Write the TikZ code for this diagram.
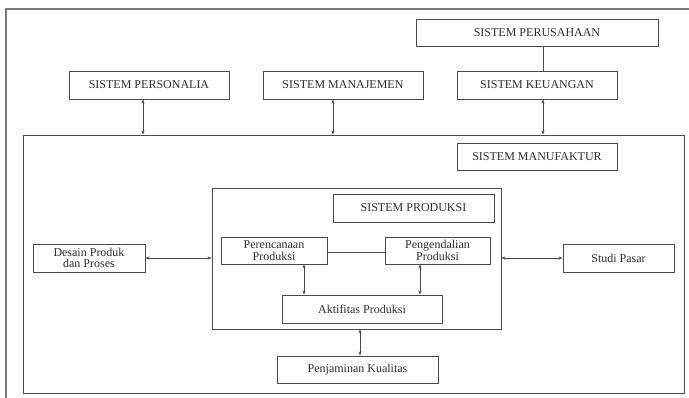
\documentclass[tikz,border=0pt]{standalone}
\usepackage{fontspec}
\setmainfont{Liberation Serif}
\usetikzlibrary{arrows.meta}
\definecolor{ink}{HTML}{2E2E2E}
\definecolor{rule}{HTML}{4A4A4A}
\definecolor{frame}{HTML}{7A7A7A}
\begin{document}
\begin{tikzpicture}[x=1pt,y=-1pt,
  box/.style={draw=rule, line width=0.9pt, rectangle, inner sep=0pt,
    text=ink, align=center, font=\fontsize{12}{11.5}\selectfont},
  region/.style={draw=rule, line width=0.9pt, rectangle, inner sep=0pt},
  link/.style={draw=rule, line width=0.8pt},
  both/.style={link, {Stealth[length=4pt,width=3.2pt]}-{Stealth[length=4pt,width=3.2pt]}}
]
\useasboundingbox (0,0) rectangle (689,398);
\fill[white] (0,0) rectangle (689,398);

% outer frame, running off the page on the right and at the bottom
\draw[frame, line width=1.1pt] (689,9) -- (6,9) -- (6,398);

% top row of systems
\node[box, minimum width=242pt, minimum height=27pt] (perus) at (537,32.5) {SISTEM PERUSAHAAN};
\node[box, minimum width=160pt, minimum height=28pt] (pers) at (149,85) {SISTEM PERSONALIA};
\node[box, minimum width=160pt, minimum height=28pt] (manaj) at (343,85) {SISTEM MANAJEMEN};
\node[box, minimum width=160pt, minimum height=28pt] (keu) at (537,85) {SISTEM KEUANGAN};

% manufacturing system
\node[region, minimum width=661pt, minimum height=258pt] (manuf) at (353.5,264) {};
\node[box, minimum width=160pt, minimum height=27pt] (manuflbl) at (537,156.5) {SISTEM MANUFAKTUR};

% production system
\node[region, minimum width=289pt, minimum height=141pt] (prod) at (356.5,258.5) {};
\node[box, minimum width=161pt, minimum height=28pt] (prodlbl) at (413.5,208) {SISTEM PRODUKSI};
\node[box, minimum width=106pt, minimum height=27pt] (renc) at (274,250.5) {Perencanaan\\Produksi};
\node[box, minimum width=105pt, minimum height=27pt] (kend) at (437.5,250.5) {Pengendalian\\Produksi};
\node[box, minimum width=160pt, minimum height=28pt] (aktif) at (362,309) {Aktifitas Produksi};

% side and bottom boxes
\node[box, minimum width=112pt, minimum height=28pt] (desain) at (89,258) {Desain Produk\\dan Proses};
\node[box, minimum width=111pt, minimum height=28pt] (studi) at (618.5,258) {Studi Pasar};
\node[box, minimum width=161pt, minimum height=27pt] (jamin) at (357.5,369.5) {Penjaminan Kualitas};

% connector columns
\coordinate (xpers) at (143,0);
\coordinate (xmanaj) at (333,0);
\coordinate (xkeu) at (543,0);
\coordinate (xrenc) at (304,0);
\coordinate (xkend) at (420,0);
\coordinate (xjamin) at (360,0);
\coordinate (yplan) at (0,252);

% connectors
\draw[link] (perus.south -| xkeu) -- (keu.north -| xkeu);
\draw[both] (pers.south -| xpers) -- (manuf.north -| xpers);
\draw[both] (manaj.south -| xmanaj) -- (manuf.north -| xmanaj);
\draw[both] (keu.south -| xkeu) -- (manuf.north -| xkeu);
\draw[link] (renc.east |- yplan) -- (kend.west |- yplan);
\draw[both] (renc.south -| xrenc) -- (aktif.north -| xrenc);
\draw[both] (kend.south -| xkend) -- (aktif.north -| xkend);
\draw[both] (desain.east) -- (prod.west |- desain.east);
\draw[both] (prod.east |- studi.west) -- (studi.west);
\draw[both] (prod.south -| xjamin) -- (jamin.north -| xjamin);
\end{tikzpicture}
\end{document}
